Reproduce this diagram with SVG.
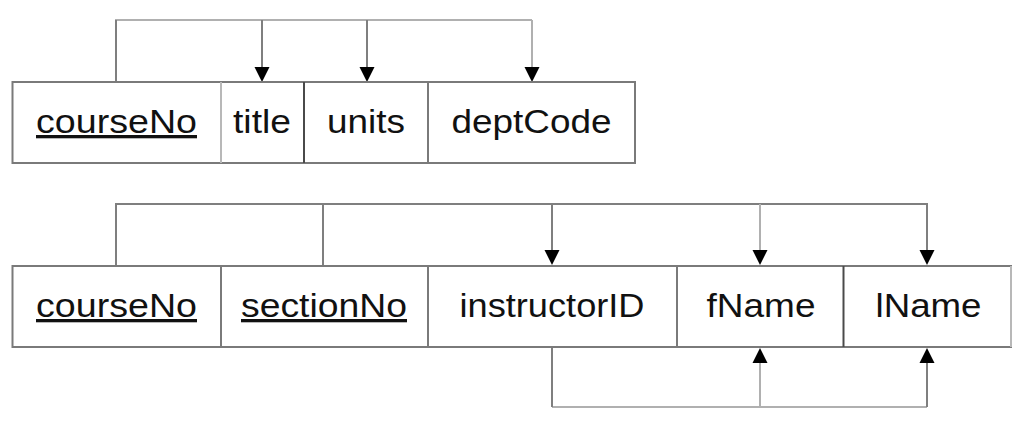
<svg xmlns="http://www.w3.org/2000/svg" width="1024" height="437" viewBox="0 0 1024 437">
<style>
  .box { fill: #ffffff; stroke: #7a7a7a; stroke-width: 2; }
  .div { stroke: #7a7a7a; stroke-width: 2; }
  .lt { stroke: #b8b8b8; }
  .dk { stroke: #4a4a4a; }
  .con { fill: none; stroke: #7f7f7f; stroke-width: 2; }
  .conl { fill: none; stroke: #b0b0b0; stroke-width: 2; }
  .lbl { font-family: "Liberation Sans", Arial, sans-serif; font-size: 33px; fill: #111111; text-anchor: middle; }
  .key { text-decoration: underline; }
  .ah { fill: #000000; }
</style>
<defs>
  <path id="down" class="ah" d="M -7.5 0 L 7.5 0 L 0 15 Z"/>
  <path id="up" class="ah" d="M -7.5 0 L 7.5 0 L 0 -15 Z"/>
</defs>
<rect width="1024" height="437" fill="#ffffff"/>

<g id="connectors">
  <!-- top relation -->
  <path class="conl" d="M 116 82 V 20 H 532"/>
  <path class="con" d="M 116 82 V 20"/>
  <path class="con" d="M 262 20 V 68"/>
  <path class="con" d="M 367 20 V 68"/>
  <path class="conl" d="M 532 20 V 68"/>
  <use href="#down" x="262" y="67"/>
  <use href="#down" x="367" y="67"/>
  <use href="#down" x="532" y="67"/>
  <!-- bottom relation, key dependency -->
  <path class="con" d="M 116 266 V 204 H 927 V 251"/>
  <path class="con" d="M 323 266 V 204"/>
  <path class="con" d="M 552 204 V 251"/>
  <path class="conl" d="M 760 204 V 251"/>
  <use href="#down" x="552" y="250"/>
  <use href="#down" x="760" y="250"/>
  <use href="#down" x="927" y="250"/>
  <!-- bottom relation, transitive dependency -->
  <path class="conl" d="M 552 407 H 927"/>
  <path class="con" d="M 552 347 V 407"/>
  <path class="conl" d="M 760 407 V 362"/>
  <path class="con" d="M 927 407 V 362"/>
  <use href="#up" x="760" y="363"/>
  <use href="#up" x="927" y="363"/>
</g>

<g id="course">
  <rect class="box" x="12.5" y="82" width="622.5" height="81"/>
  <g id="course-courseNo">
    <text class="lbl key" x="116.5" y="133" textLength="161" lengthAdjust="spacingAndGlyphs">courseNo</text>
  </g>
  <g id="course-title">
    <line class="div lt" x1="221" y1="82" x2="221" y2="163"/>
    <text class="lbl" x="262" y="133" textLength="58" lengthAdjust="spacingAndGlyphs">title</text>
  </g>
  <g id="course-units">
    <line class="div dk" x1="304" y1="82" x2="304" y2="163"/>
    <text class="lbl" x="366" y="133" textLength="78" lengthAdjust="spacingAndGlyphs">units</text>
  </g>
  <g id="course-deptCode">
    <line class="div" x1="428" y1="82" x2="428" y2="163"/>
    <text class="lbl" x="531.5" y="133" textLength="160" lengthAdjust="spacingAndGlyphs">deptCode</text>
  </g>
</g>

<g id="section">
  <rect class="box" x="12.5" y="266" width="998.5" height="81"/>
  <line class="div lt" x1="1011" y1="266" x2="1011" y2="347"/>
  <g id="section-courseNo">
    <text class="lbl key" x="116.5" y="317" textLength="161" lengthAdjust="spacingAndGlyphs">courseNo</text>
  </g>
  <g id="section-sectionNo">
    <line class="div" x1="221" y1="266" x2="221" y2="347"/>
    <text class="lbl key" x="324" y="317" textLength="166" lengthAdjust="spacingAndGlyphs">sectionNo</text>
  </g>
  <g id="section-instructorID">
    <line class="div" x1="428" y1="266" x2="428" y2="347"/>
    <text class="lbl" x="552" y="317" textLength="185" lengthAdjust="spacingAndGlyphs">instructorID</text>
  </g>
  <g id="section-fName">
    <line class="div" x1="677" y1="266" x2="677" y2="347"/>
    <text class="lbl" x="761" y="317" textLength="109" lengthAdjust="spacingAndGlyphs">fName</text>
  </g>
  <g id="section-lName">
    <line class="div dk" x1="843.5" y1="266" x2="843.5" y2="347"/>
    <text class="lbl" x="928.5" y="317" textLength="106" lengthAdjust="spacingAndGlyphs">lName</text>
  </g>
</g>
</svg>
